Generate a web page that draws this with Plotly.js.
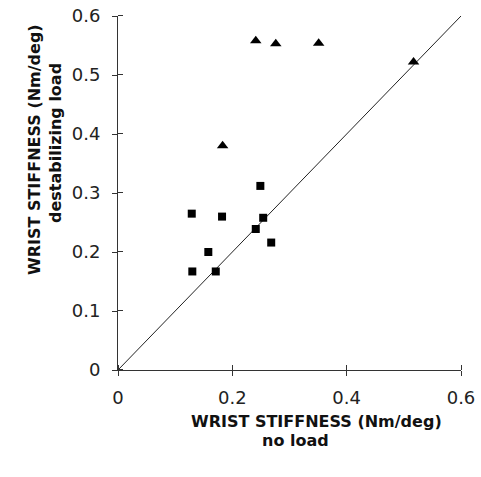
<!DOCTYPE html>
<html><head><meta charset="utf-8">
<script src="https://cdn.plot.ly/plotly-3.0.1.min.js"></script>
<style>body{margin:0;background:#fff}#c{width:481px;height:477px}</style>
</head><body><div id="c"></div>
<script>
// no load (x) vs destabilizing load (y)
const squareX = [0.249, 0.129, 0.182, 0.254, 0.241, 0.268, 0.158, 0.130, 0.171];
const squareY = [0.312, 0.265, 0.260, 0.258, 0.239, 0.216, 0.200, 0.167, 0.167];
const triX = [0.241, 0.276, 0.351, 0.517, 0.183];
const triY = [0.558, 0.553, 0.554, 0.522, 0.380];
const identityX = [0, 0.6];
const identityY = [0, 0.6];
const tickVals = [0, 0.1, 0.2, 0.3, 0.4, 0.5, 0.6];
const xTickVals = [0, 0.2, 0.4, 0.6];
const xTitle = ['WRIST STIFFNESS (Nm/deg)', 'no load'];
const yTitle = ['WRIST STIFFNESS (Nm/deg)', 'destabilizing load'];

const F = 'DejaVu Sans, Liberation Sans, sans-serif';
const nudge = v => v + 1e-5;  // keeps inner tick marks from being merged with major ticks
const traces = [
  {x: identityX, y: identityY, mode: 'lines', line: {color: '#222', width: 1}, hoverinfo: 'skip'},
  {x: squareX, y: squareY, mode: 'markers', marker: {symbol: 'square', size: 8, color: '#000'}},
  {x: triX, y: triY, mode: 'markers', marker: {symbol: 'triangle-up', size: 10, color: '#000'}}
];
const axBase = {range: [0, 0.6], showgrid: false, zeroline: false, showline: true,
  linecolor: '#333', linewidth: 1, tickcolor: '#333', ticklen: 5, tickwidth: 1};
const layout = {
  width: 481, height: 477, showlegend: false,
  paper_bgcolor: '#fff', plot_bgcolor: '#fff',
  margin: {l: 118, r: 20, t: 16, b: 107},
  font: {family: F, color: '#222'},
  xaxis: Object.assign({}, axBase, {ticks: 'outside', tickvals: xTickVals,
    ticktext: xTickVals.map(String), tickfont: {size: 18, family: F, color: '#222'}, ticklabelstandoff: 6,
    minor: {ticks: 'inside', tickvals: xTickVals.map(nudge), ticklen: 5, tickwidth: 1, tickcolor: '#333', showgrid: false}}),
  yaxis: Object.assign({}, axBase, {ticks: 'outside', tickvals: tickVals,
    ticktext: tickVals.map(String), tickfont: {size: 18, family: F, color: '#222'}, ticklabelstandoff: 8,
    minor: {ticks: 'inside', tickvals: tickVals.map(nudge), ticklen: 5, tickwidth: 1, tickcolor: '#333', showgrid: false}}),
  annotations: [
    {text: '<b>' + xTitle[0] + '</b>', xref: 'paper', yref: 'paper', x: (316.5-118)/343, y: -(421-370)/354, xanchor: 'center', yanchor: 'middle', showarrow: false, font: {size: 16, family: F, color: '#111'}},
    {text: '<b>' + xTitle[1] + '</b>', xref: 'paper', yref: 'paper', x: (295-118)/343, y: -(440-370)/354, xanchor: 'center', yanchor: 'middle', showarrow: false, font: {size: 16, family: F, color: '#111'}},
    {text: '<b>' + yTitle[0] + '</b>', xref: 'paper', yref: 'paper', x: -(118-35)/343, y: (370-150)/354, xanchor: 'center', yanchor: 'middle', textangle: -90, showarrow: false, font: {size: 16, family: F, color: '#111'}},
    {text: '<b>' + yTitle[1] + '</b>', xref: 'paper', yref: 'paper', x: -(118-55)/343, y: (370-143)/354, xanchor: 'center', yanchor: 'middle', textangle: -90, showarrow: false, font: {size: 16, family: F, color: '#111'}}
  ]
};
Plotly.newPlot('c', traces, layout, {staticPlot: true});
</script></body></html>
